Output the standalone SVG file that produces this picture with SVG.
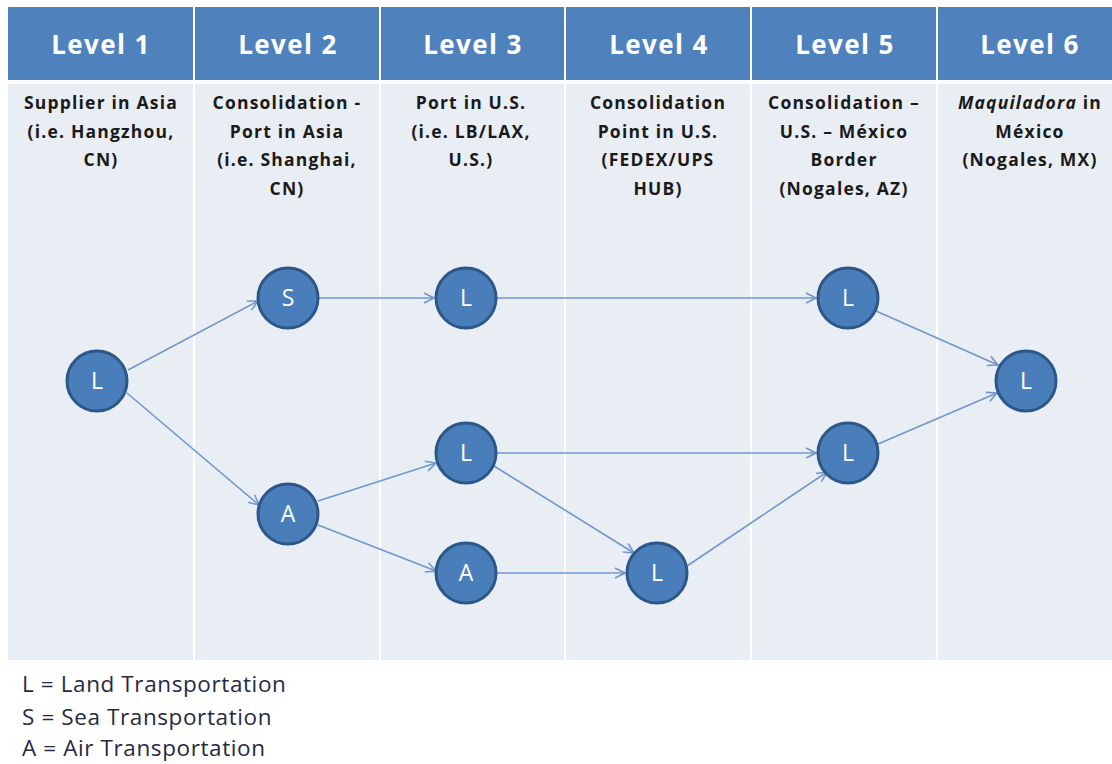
<svg xmlns="http://www.w3.org/2000/svg" width="1112" height="764" viewBox="0 0 1112 764">
<defs>
<style>
.hdr{fill:#4f81bd}
.body{fill:#e9edf4}
.ht{font-family:"Open Sans","Liberation Sans",sans-serif;font-weight:bold;font-size:26px;letter-spacing:1.4px;fill:#ffffff;text-anchor:middle}
.dt{font-family:"Open Sans","Liberation Sans",sans-serif;font-weight:bold;font-size:17.5px;letter-spacing:1.2px;fill:#1a1a1a;text-anchor:middle}
.node circle{fill:#4a7ebb;stroke:#2c5788;stroke-width:3}
.node text{font-family:"Open Sans","Liberation Sans",sans-serif;font-size:23px;fill:#ffffff;text-anchor:middle}
.edge{stroke:#7197cb;stroke-width:1.6;fill:none;marker-end:url(#arr)}
.lg{font-family:"Open Sans","Liberation Sans",sans-serif;font-size:22.5px;letter-spacing:0.6px;fill:#262a40}
</style>
<marker id="arr" viewBox="0 0 12 12" refX="11" refY="6" markerWidth="12" markerHeight="12" markerUnits="userSpaceOnUse" orient="auto">
<path d="M1,1 L11,6 L1,11" fill="none" stroke="#7197cb" stroke-width="1.6"/>
</marker>
</defs>
<rect width="1112" height="764" fill="#ffffff"/>
<g id="columns">
<rect class="hdr" x="8" y="7" width="185" height="73"/>
<rect class="hdr" x="195" y="7" width="184" height="73"/>
<rect class="hdr" x="381" y="7" width="183" height="73"/>
<rect class="hdr" x="566" y="7" width="184" height="73"/>
<rect class="hdr" x="752" y="7" width="184" height="73"/>
<rect class="hdr" x="938" y="7" width="174" height="73"/>
<rect class="body" x="8" y="84" width="185" height="576"/>
<rect class="body" x="195" y="84" width="184" height="576"/>
<rect class="body" x="381" y="84" width="183" height="576"/>
<rect class="body" x="566" y="84" width="184" height="576"/>
<rect class="body" x="752" y="84" width="184" height="576"/>
<rect class="body" x="938" y="84" width="174" height="576"/>
<text class="ht" x="101" y="54">Level 1</text>
<text class="ht" x="288" y="54">Level 2</text>
<text class="ht" x="473" y="54">Level 3</text>
<text class="ht" x="659" y="54">Level 4</text>
<text class="ht" x="845" y="54">Level 5</text>
<text class="ht" x="1030" y="54">Level 6</text>
<text class="dt" x="101" y="109">Supplier in Asia</text>
<text class="dt" x="101" y="138">(i.e. Hangzhou,</text>
<text class="dt" x="101" y="166">CN)</text>
<text class="dt" x="287" y="109">Consolidation -</text>
<text class="dt" x="287" y="138">Port in Asia</text>
<text class="dt" x="287" y="166">(i.e. Shanghai,</text>
<text class="dt" x="287" y="195">CN)</text>
<text class="dt" x="471" y="109">Port in U.S.</text>
<text class="dt" x="471" y="138">(i.e. LB/LAX,</text>
<text class="dt" x="471" y="166">U.S.)</text>
<text class="dt" x="658" y="109">Consolidation</text>
<text class="dt" x="658" y="138">Point in U.S.</text>
<text class="dt" x="658" y="166">(FEDEX/UPS</text>
<text class="dt" x="658" y="195">HUB)</text>
<text class="dt" x="844" y="109">Consolidation –</text>
<text class="dt" x="844" y="138">U.S. – México</text>
<text class="dt" x="844" y="166">Border</text>
<text class="dt" x="844" y="195">(Nogales, AZ)</text>
<text class="dt" x="1030" y="109"><tspan font-style="italic">Maquiladora</tspan> in</text>
<text class="dt" x="1030" y="138">México</text>
<text class="dt" x="1030" y="166">(Nogales, MX)</text>
</g>
<g id="connectors">
<line class="edge" x1="128" y1="370" x2="258" y2="301"/>
<line class="edge" x1="127" y1="393" x2="259" y2="505"/>
<line class="edge" x1="319" y1="298" x2="434" y2="298"/>
<line class="edge" x1="497" y1="298" x2="816" y2="298"/>
<line class="edge" x1="876" y1="311" x2="998" y2="365"/>
<line class="edge" x1="318" y1="501" x2="436" y2="463"/>
<line class="edge" x1="318" y1="525" x2="436" y2="571"/>
<line class="edge" x1="497" y1="453" x2="816" y2="453"/>
<line class="edge" x1="494" y1="466" x2="634" y2="553"/>
<line class="edge" x1="497" y1="573" x2="625" y2="573"/>
<line class="edge" x1="687" y1="566" x2="827" y2="472"/>
<line class="edge" x1="878" y1="444" x2="997" y2="393"/>
</g>
<g id="n1" class="node"><circle cx="97" cy="381" r="30"/><text x="97" y="389">L</text></g>
<g id="n2s" class="node"><circle cx="288" cy="298" r="30"/><text x="288" y="306">S</text></g>
<g id="n2a" class="node"><circle cx="288" cy="514" r="30"/><text x="288" y="522">A</text></g>
<g id="n3l1" class="node"><circle cx="466" cy="298" r="30"/><text x="466" y="306">L</text></g>
<g id="n3l2" class="node"><circle cx="466" cy="453" r="30"/><text x="466" y="461">L</text></g>
<g id="n3a" class="node"><circle cx="466" cy="573" r="30"/><text x="466" y="581">A</text></g>
<g id="n4" class="node"><circle cx="657" cy="573" r="30"/><text x="657" y="581">L</text></g>
<g id="n5l1" class="node"><circle cx="848" cy="298" r="30"/><text x="848" y="306">L</text></g>
<g id="n5l2" class="node"><circle cx="848" cy="453" r="30"/><text x="848" y="461">L</text></g>
<g id="n6" class="node"><circle cx="1026" cy="381" r="30"/><text x="1026" y="389">L</text></g>
<g id="legend">
<text class="lg" x="22" y="692">L = Land Transportation</text>
<text class="lg" x="22" y="725">S = Sea Transportation</text>
<text class="lg" x="22" y="756">A = Air Transportation</text>
</g>
</svg>
